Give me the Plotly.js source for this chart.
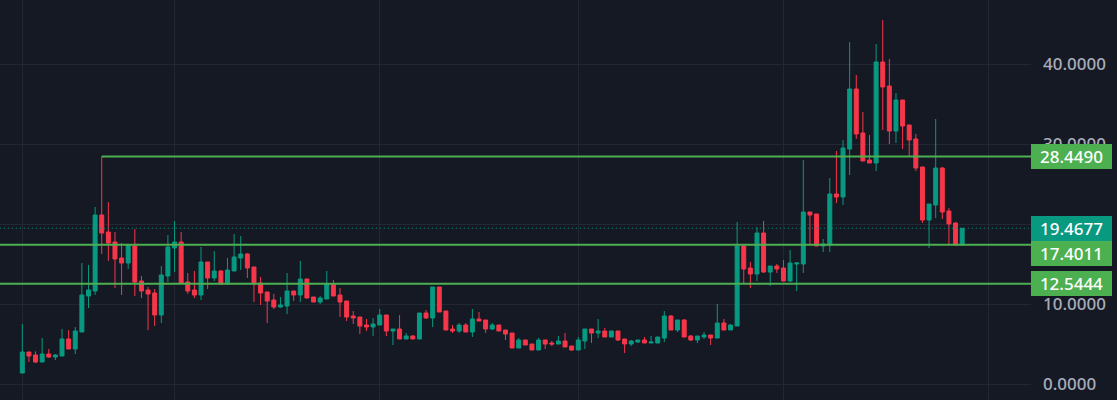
<!DOCTYPE html>
<html>
<head>
<meta charset="utf-8">
<script src="https://cdn.plot.ly/plotly-3.0.1.min.js"></script>
<style>
  html, body { margin: 0; padding: 0; background: #151924; }
  #chart { width: 1117px; height: 400px; }
</style>
</head>
<body>
<div id="chart"></div>
<script>
const opens = [
  1.375, 4, 3.625, 2.75, 3.75, 3.375, 3.5, 5.625, 4.375, 6.5,
  11, 11.625, 21.125, 19, 17.75, 15.75, 15.125, 17.25, 12.875, 11.75,
  11.375, 8.625, 13.5, 17, 17.75, 12.75, 11.75, 11.125, 15.25, 13.25,
  14.125, 12.5, 14.125, 15.75, 16.25, 14.625, 12.625, 11.5, 10.5, 9.625,
  9.75, 11.625, 11.125, 13.125, 10.875, 10.25, 10.625, 12.5, 11.125, 10.375,
  8.5, 8.375, 7.375, 7.125, 7.375, 8.625, 6.625, 6.875, 5.625, 6,
  5.625, 8.875, 8.25, 12.125, 9.125, 6.875, 6.625, 7.375, 6.5, 8.125,
  8, 6.875, 7.375, 6.75, 6.375, 4.5, 5.5, 5, 4.25, 5.5,
  5.125, 5, 5.375, 4.75, 4.25, 5.375, 6.875, 6.375, 6.625, 5.875,
  6.625, 5.625, 5, 5.25, 5.5, 5.125, 5.125, 5.75, 8.5, 6.75,
  8, 6, 5.5, 5.875, 6.125, 5.75, 7.625, 6.75, 7.25, 17.25,
  14.5, 13.75, 18.875, 14, 14.75, 14.5, 12.875, 15, 15, 21.5,
  21.25, 17.25, 17.375, 23.75, 23.375, 29.375, 36.875, 31.375, 28, 27.625,
  40.25, 37.25, 31.625, 35.5, 32.375, 30.625, 27.125, 20.5, 22.375, 27,
  21.625, 20.125, 17.375
];
const highs = [
  7.5, 4, 4.08, 5.75, 4.375, 3.75, 6.875, 6.75, 7.125, 15.125,
  14.875, 22.125, 28.449, 22.75, 19, 17.625, 17.375, 19.375, 13.5, 12.125,
  11.875, 14.75, 18.625, 20.375, 19, 13.875, 14.125, 17.125, 15.25, 16.625,
  14.25, 15.75, 18.75, 18.5, 16.375, 14.625, 13.375, 11.5, 11.25, 10.875,
  13.875, 11.625, 15.375, 13.125, 10.875, 11, 14.125, 13, 12, 10.375,
  9.125, 8.375, 8.125, 8.25, 9.375, 8.625, 6.875, 8.625, 6.375, 6.125,
  8.875, 9.25, 12.125, 12.125, 9.125, 7.375, 7.625, 7.625, 9.375, 9,
  8, 7.625, 7.375, 6.75, 6.375, 5.75, 5.5, 5, 5.75, 5.5,
  5.375, 6, 6.375, 4.75, 5.875, 6.875, 6.875, 8.125, 7, 6.625,
  6.625, 5.625, 5.5, 5.5, 5.875, 6, 5.875, 9.125, 8.625, 8,
  8.125, 6.125, 6, 6.5, 6.125, 10, 8.125, 7.5, 20.25, 17.5,
  15.25, 19.625, 20.375, 14.75, 15, 15.5, 16.75, 15.25, 28, 21.5,
  21.25, 18.125, 25.75, 29.125, 30.5, 42.75, 38.625, 34, 31.125, 42.5,
  45.5, 40.625, 36.375, 35.5, 32.375, 31.25, 27.125, 22.5, 33.125, 27.125,
  22, 20.25, 19.4677
];
const lows = [
  1.375, 2.75, 2.625, 2.75, 3.25, 3, 3.5, 4.375, 3.75, 6.5,
  9.5, 11.125, 16.25, 15.375, 12, 11.125, 14.375, 11, 10.75, 6.75,
  7.25, 7.625, 12.75, 14, 12.625, 11.25, 10.75, 10.5, 11.875, 12.875,
  12.5, 12.5, 14.125, 14.25, 13.25, 10.25, 9.875, 7.625, 9.375, 9.5,
  8.75, 10.375, 10.25, 10.75, 10.25, 10, 10.625, 11, 8.375, 7.875,
  7.5, 6.25, 6.625, 6, 7.375, 6, 4.875, 5.625, 5.625, 5.625,
  5.625, 8.125, 7.125, 9, 6.75, 6.375, 6.375, 6.5, 5.875, 7.875,
  6.375, 6.75, 6.625, 5.5, 4.5, 4.5, 4.875, 4.25, 4.25, 4.375,
  4.75, 5, 4.625, 4.125, 4.25, 4.375, 5.125, 5.75, 5.875, 5.875,
  5.375, 3.875, 4.75, 5.125, 5.125, 5.125, 5.125, 5.25, 6.75, 6.5,
  5.875, 5.375, 5.125, 5.625, 4.875, 5.75, 6.75, 6.75, 7.25, 12.5,
  12, 12.875, 13.875, 12.25, 13.875, 12.875, 12.75, 11.625, 13.875, 17.375,
  17.25, 16.5, 16.5, 22.625, 22.375, 26.125, 30.625, 27.875, 27.625, 26.625,
  31.75, 30, 30.125, 29.375, 28.5, 26.625, 20.125, 17, 20.75, 20.625,
  17.375, 17.375, 17.25
];
const closes = [
  4, 3.5, 2.75, 3.75, 3.375, 3.625, 5.625, 4.375, 6.625, 11.125,
  11.75, 21.125, 18.875, 17.625, 15.625, 15.125, 17.375, 12.75, 11.625, 11.25,
  8.625, 13.625, 17.125, 17.75, 12.625, 11.625, 11.125, 15.25, 13.25, 14.125,
  12.5, 14.25, 15.875, 16.25, 14.5, 12.5, 11.375, 10.375, 9.625, 9.875,
  11.625, 11.125, 13.125, 10.75, 10.25, 10.75, 12.5, 11, 10.25, 8.375,
  8.25, 7.25, 7.125, 7.5, 8.625, 6.625, 6.875, 5.625, 6, 5.625,
  8.875, 8.25, 12.125, 9, 6.75, 6.625, 7.375, 6.5, 8.125, 7.875,
  6.875, 7.375, 6.625, 6.25, 4.5, 5.5, 4.875, 4.25, 5.5, 5,
  5, 5.375, 4.625, 4.25, 5.5, 6.875, 6.375, 6.625, 5.875, 6.625,
  5.5, 5, 5.375, 5.5, 5.125, 5.25, 5.875, 8.5, 6.75, 8,
  5.875, 5.5, 6, 6.125, 5.75, 7.625, 6.75, 7.375, 17.25, 14.375,
  13.75, 18.875, 14, 14.75, 14.375, 12.875, 15.125, 15.125, 21.5, 21.125,
  17.25, 17.5, 23.75, 23.375, 29.5, 36.875, 31.25, 27.875, 27.625, 40.25,
  37.125, 31.625, 35.5, 32.25, 30.5, 27, 20.5, 22.5, 27, 21.5,
  20, 17.375, 19.4677
];
const monthStarts = [0, 23, 54, 84, 115, 146];
const priceTicks = [0, 10, 20, 30, 40];
const tickLabels = ['0.0000', '10.0000', '20.0000', '30.0000', '40.0000'];
const levels = [28.449, 17.4011, 12.5444];
const levelLabels = ['28.4490', '17.4011', '12.5444'];
const levelFrom = [12, -4, -4];
const lastPrice = 19.4677;

const UP = '#089981', DOWN = '#F7364A', LEVEL = '#4CAF50';
const xEnd = 152.4;
const xs = opens.map((_, i) => i);

const traces = [{
  type: 'candlestick', x: xs, open: opens, high: highs, low: lows, close: closes,
  whiskerwidth: 0, hoverinfo: 'skip',
  increasing: { line: { color: UP, width: 1 }, fillcolor: UP },
  decreasing: { line: { color: DOWN, width: 1 }, fillcolor: DOWN }
}, {
  type: 'scatter', mode: 'lines', x: [-4, xEnd], y: [lastPrice, lastPrice], hoverinfo: 'skip',
  line: { color: UP, width: 1, dash: '1px,3px' }
}];
levels.forEach((v, i) => {
  traces.push({ type: 'scatter', mode: 'lines', x: [levelFrom[i], xEnd], y: [v, v], hoverinfo: 'skip',
    line: { color: LEVEL, width: 2 } });
});

// axis tags sit just right of the plot; 17.4011 gets pushed down under the last-price tag
const tag = (text, y, color, shift) => ({
  xref: 'paper', yref: 'y', x: 1, y: y, xanchor: 'left', yanchor: 'middle',
  text: text, showarrow: false, bgcolor: color, width: 81, height: 25, borderpad: 0, borderwidth: 0,
  align: 'center', yshift: shift || 0,
  font: { family: '"Noto Sans", sans-serif', size: 17, color: '#ffffff', weight: 500 }
});

const layout = {
  width: 1117, height: 400,
  margin: { l: 0, r: 86, t: 0, b: 0 },
  paper_bgcolor: '#151924', plot_bgcolor: '#151924',
  showlegend: false, boxgap: 0.4, boxgroupgap: 0,
  xaxis: { range: [-3.37, xEnd], rangeslider: { visible: false }, tickvals: monthStarts,
    showticklabels: false, ticks: '', showgrid: true, gridcolor: '#232733', gridwidth: 1, zeroline: false },
  yaxis: { range: [-2, 48], side: 'right', tickvals: priceTicks, ticktext: tickLabels, ticks: '',
    ticklabelstandoff: 11, showgrid: true, gridcolor: '#232733', gridwidth: 1, zeroline: false,
    tickfont: { family: '"Noto Sans", sans-serif', size: 17, color: '#A9ADBC', weight: 500 } },
  annotations: [
    tag(levelLabels[0], levels[0], LEVEL),
    tag(levelLabels[1], levels[1], LEVEL, -8.7),
    tag(levelLabels[2], levels[2], LEVEL),
    tag(lastPrice.toFixed(4), lastPrice, UP)
  ]
};
Plotly.newPlot('chart', traces, layout, { displayModeBar: false, responsive: false });
</script>
</body>
</html>
